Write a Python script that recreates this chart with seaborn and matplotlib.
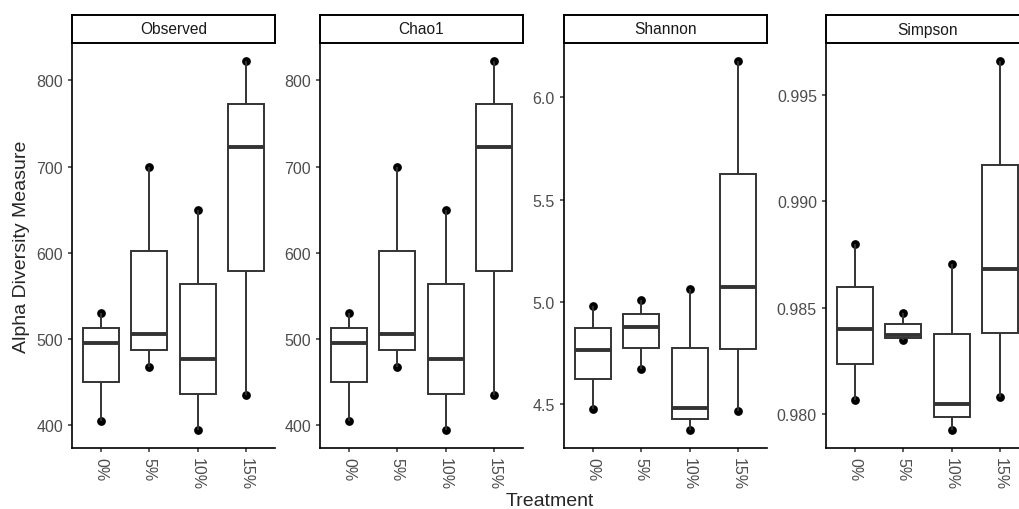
import numpy as np
import pandas as pd
import matplotlib
matplotlib.use("Agg")
import matplotlib.pyplot as plt
from matplotlib.ticker import MultipleLocator, FormatStrFormatter
import seaborn as sns

treatments = ["0%", "5%", "10%", "15%"]
measures = ["Observed", "Chao1", "Shannon", "Simpson"]

# three samples per treatment
observed = [[405, 495, 530], [468, 506, 699], [395, 477, 650], [435, 723, 822]]
chao1 = [[405, 495, 530], [468, 506, 699], [395, 477, 650], [435, 723, 822]]
shannon = [[4.477, 4.765, 4.982], [4.672, 4.877, 5.008],
           [4.376, 4.480, 5.065], [4.466, 5.075, 6.176]]
simpson = [[0.98069, 0.98398, 0.98800], [0.98347, 0.98372, 0.98473],
           [0.97928, 0.98048, 0.98703], [0.98080, 0.98680, 0.99656]]

tick_steps = [100, 100, 0.5, 0.005]
tick_fmts = ["%d", "%d", "%.1f", "%.3f"]

rows = []
for measure, vals in zip(measures, [observed, chao1, shannon, simpson]):
    for trt, samples in zip(treatments, vals):
        for v in samples:
            rows.append({"measure": measure, "Treatment": trt, "value": v})
df = pd.DataFrame(rows)

sns.set_style("ticks")
plt.rcParams["font.family"] = ["Liberation Sans", "DejaVu Sans"]

W, H = 1019, 510
fig = plt.figure(figsize=(W / 100, H / 100), dpi=100)

# panel layout in pixels (last panel runs off the right edge like the original)
lefts = [72, 320, 564, 826]
pw = 203
top, bottom = 44, 449
strip_top = 16

for i, measure in enumerate(measures):
    ax = fig.add_axes([lefts[i] / W, 1 - bottom / H, pw / W, (bottom - top) / H])
    sub = df[df["measure"] == measure]

    sns.stripplot(data=sub, x="Treatment", y="value", order=treatments,
                  color="black", size=6.3, jitter=False, linewidth=0,
                  zorder=1, ax=ax)
    sns.boxplot(data=sub, x="Treatment", y="value", order=treatments,
                color="white", saturation=1, linecolor="#333333",
                linewidth=1.4, width=0.75, whis=(0, 100), showcaps=False,
                fliersize=0, medianprops={"linewidth": 2.8}, ax=ax)

    lo, hi = sub["value"].min(), sub["value"].max()
    pad = 0.05 * (hi - lo)
    ax.set_ylim(lo - pad, hi + pad)
    ax.set_xlim(-0.6, 3.6)
    ax.yaxis.set_major_locator(MultipleLocator(tick_steps[i]))
    ax.yaxis.set_major_formatter(FormatStrFormatter(tick_fmts[i]))
    ax.set_xlabel("")
    ax.set_ylabel("")
    ax.grid(False)
    sns.despine(ax=ax)
    for s in ["left", "bottom"]:
        ax.spines[s].set_linewidth(1.2)
        ax.spines[s].set_color("black")
    ax.tick_params(colors="#333333", labelcolor="#4D4D4D", labelsize=11.5,
                   length=3, width=1.1, pad=3.5)
    plt.setp(ax.get_xticklabels(), rotation=-90, ha="center", va="top")

    # facet strip
    sx = fig.add_axes([lefts[i] / W, 1 - top / H, pw / W, (top - strip_top) / H])
    sx.set_xticks([])
    sx.set_yticks([])
    sx.set_facecolor("white")
    for s in sx.spines.values():
        s.set_visible(True)
        s.set_linewidth(1.4)
        s.set_color("black")
    sx.text(0.5, 0.5, measure, ha="center", va="center", fontsize=11.2,
            color="#1A1A1A", transform=sx.transAxes)

fig.text(22 / W, 1 - 246.5 / H, "Alpha Diversity Measure", rotation=90,
         ha="center", va="center", fontsize=14)
fig.text(550 / W, 1 - 502 / H, "Treatment", ha="center", va="center",
         fontsize=14)

fig.savefig("out.png", dpi=100)
